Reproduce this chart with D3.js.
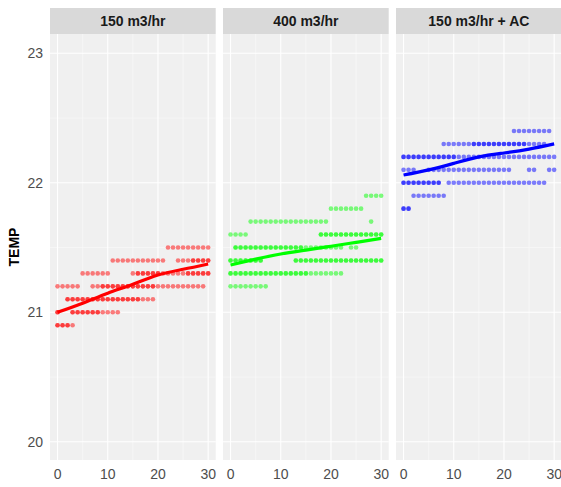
<!DOCTYPE html>
<html>
<head>
<meta charset="utf-8">
<script src="https://cdn.jsdelivr.net/npm/d3@7"></script>
<style>
  body { margin: 0; background: #fff; }
  svg { display: block; font-family: "Liberation Sans", Arial, sans-serif; }
</style>
</head>
<body>
<svg id="chart" width="561" height="487"></svg>
<script>
// facet labels and colours
const panels = ["150 m3/hr", "400 m3/hr", "150 m3/hr + AC"];
const colors = ["#ff0000", "#00ff00", "#0000ff"];

// observed points as runs: [TEMP, first time, last time, overlap count]
const runsA = [
  [21.5, 22, 30, 1],
  [21.4, 11, 21, 1], [21.4, 24, 26, 1], [21.4, 27, 30, 2],
  [21.3, 5, 10, 1], [21.3, 15, 15, 1], [21.3, 16, 20, 2], [21.3, 21, 25, 1], [21.3, 26, 30, 2],
  [21.2, 0, 4, 1], [21.2, 7, 8, 1], [21.2, 9, 19, 2], [21.2, 20, 29, 1],
  [21.1, 2, 16, 2], [21.1, 17, 19, 1],
  [21.0, 0, 0, 2], [21.0, 3, 8, 2], [21.0, 9, 12, 1],
  [20.9, 0, 2, 2], [20.9, 3, 3, 1]
];
const runsB = [
  [21.9, 27, 30, 1],
  [21.8, 20, 26, 1],
  [21.7, 4, 19, 1], [21.7, 28, 28, 1],
  [21.6, 0, 3, 1], [21.6, 18, 30, 2],
  [21.5, 1, 14, 2], [21.5, 15, 22, 1], [21.5, 24, 25, 1],
  [21.4, 0, 6, 2], [21.4, 13, 30, 2],
  [21.3, 0, 15, 2], [21.3, 16, 22, 1],
  [21.2, 0, 7, 1]
];
const runsC = [
  [22.4, 22, 29, 1],
  [22.3, 8, 13, 1], [22.3, 14, 24, 2], [22.3, 25, 28, 1],
  [22.2, 0, 10, 2], [22.2, 11, 30, 1],
  [22.1, 0, 2, 1], [22.1, 5, 7, 1], [22.1, 8, 21, 1], [22.1, 25, 26, 1], [22.1, 29, 30, 1],
  [22.0, 0, 7, 2], [22.0, 9, 28, 1],
  [21.9, 2, 8, 1],
  [21.8, 0, 1, 2]
];

// smoothed fit
const smoothX = [0, 5, 10, 15, 20, 25, 30];
const smoothA = [21.0, 21.07, 21.147, 21.216, 21.288, 21.332, 21.373];
const smoothB = [21.365, 21.41, 21.45, 21.48, 21.51, 21.54, 21.57];
const smoothC = [22.06, 22.10, 22.15, 22.20, 22.23, 22.26, 22.30];

const xTicks = [0, 10, 20, 30];
const yTicks = [20, 21, 22, 23];

const runs = [runsA, runsB, runsC];
const smooths = [smoothA, smoothB, smoothC];

const svg = d3.select("#chart");

const panelLeft = [50, 223, 396];
const panelW = 165.7;
const stripTop = 8, panelTop = 34, panelBottom = 460;

const x = d3.scaleLinear().domain([-1.5, 31.5]).range([0, panelW]);
const y = d3.scaleLinear().domain([19.859, 23.149]).range([panelBottom, panelTop]);

function expand(r) {
  const pts = [];
  r.forEach(([t, a, b, n]) => {
    for (let i = a; i <= b; i++) for (let k = 0; k < n; k++) pts.push({ x: i, y: t });
  });
  return pts;
}

panels.forEach((name, i) => {
  const g = svg.append("g").attr("transform", `translate(${panelLeft[i]},0)`);

  // strip
  g.append("rect").attr("x", 0).attr("y", stripTop)
    .attr("width", panelW).attr("height", panelTop - stripTop).attr("fill", "#d9d9d9");
  g.append("text").attr("x", panelW / 2).attr("y", (stripTop + panelTop) / 2)
    .attr("dy", "0.36em").attr("text-anchor", "middle")
    .attr("font-size", 14).attr("font-weight", "bold").attr("fill", "#1a1a1a")
    .text(name);

  // panel background and grid
  g.append("rect").attr("x", 0).attr("y", panelTop)
    .attr("width", panelW).attr("height", panelBottom - panelTop).attr("fill", "#f0f0f0");

  const minorX = [5, 15, 25], minorY = [19.5, 20.5, 21.5, 22.5];
  g.selectAll(".mx").data(minorX).enter().append("line")
    .attr("x1", d => x(d)).attr("x2", d => x(d)).attr("y1", panelTop).attr("y2", panelBottom)
    .attr("stroke", "#fafafa").attr("stroke-width", 0.6);
  g.selectAll(".my").data(minorY.filter(d => y(d) > panelTop && y(d) < panelBottom)).enter().append("line")
    .attr("x1", 0).attr("x2", panelW).attr("y1", d => y(d)).attr("y2", d => y(d))
    .attr("stroke", "#fafafa").attr("stroke-width", 0.6);
  g.selectAll(".gx").data(xTicks).enter().append("line")
    .attr("x1", d => x(d)).attr("x2", d => x(d)).attr("y1", panelTop).attr("y2", panelBottom)
    .attr("stroke", "#fff").attr("stroke-width", 1.1);
  g.selectAll(".gy").data(yTicks).enter().append("line")
    .attr("x1", 0).attr("x2", panelW).attr("y1", d => y(d)).attr("y2", d => y(d))
    .attr("stroke", "#fff").attr("stroke-width", 1.1);

  // points
  g.selectAll("circle").data(expand(runs[i])).enter().append("circle")
    .attr("cx", d => x(d.x)).attr("cy", d => y(d.y)).attr("r", 2.3)
    .attr("fill", colors[i]).attr("fill-opacity", 0.5);

  // smooth line
  const line = d3.line().x((d, j) => x(smoothX[j])).y(d => y(d)).curve(d3.curveNatural);
  g.append("path").datum(smooths[i]).attr("d", line)
    .attr("fill", "none").attr("stroke", colors[i]).attr("stroke-width", 3.2);

  // x axis labels
  g.selectAll(".xt").data(xTicks).enter().append("text")
    .attr("x", d => x(d)).attr("y", 479).attr("text-anchor", "middle")
    .attr("font-size", 14).attr("fill", "#4d4d4d").text(d => d);
});

// y axis labels
svg.selectAll(".yt").data(yTicks).enter().append("text")
  .attr("x", 43).attr("y", d => y(d)).attr("dy", "0.36em").attr("text-anchor", "end")
  .attr("font-size", 14).attr("fill", "#4d4d4d").text(d => d);

svg.append("text")
  .attr("transform", `translate(19,${(panelTop + panelBottom) / 2}) rotate(-90)`)
  .attr("text-anchor", "middle").attr("font-size", 14).attr("font-weight", "bold")
  .attr("fill", "#000").text("TEMP");
</script>
</body>
</html>
